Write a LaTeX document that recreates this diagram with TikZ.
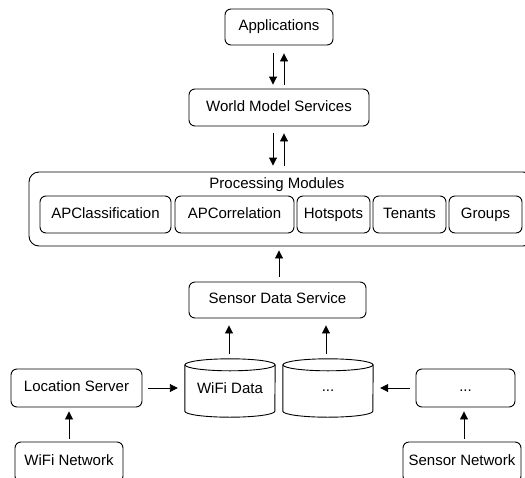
\documentclass[tikz,border=0pt]{standalone}
\usepackage{fontspec}
\setmainfont{Liberation Sans}
\usetikzlibrary{arrows.meta}
\begin{document}
\begin{tikzpicture}[x=1pt,y=-1pt,
  txt/.style={font=\fontsize{15}{18}\selectfont, inner sep=0pt},
  box/.style={txt, draw, line width=0.9pt, rounded corners=6pt, text height=10.5pt, text depth=3pt},
  outer/.style={draw, line width=0.9pt, rounded corners=10pt, inner sep=0pt},
  cylnode/.style={txt},
  line/.style={line width=0.9pt},
  arr/.style={line width=0.9pt, -{Triangle[length=8pt,width=8pt]}}]
\useasboundingbox (0,0) rectangle (525,477);
\clip (0,0) rectangle (525,477);
% top
\node[box, minimum width=108pt, minimum height=36pt] (app) at (279,27) {Applications};
\node[box, minimum width=180pt, minimum height=37pt] (wms) at (279,107.5) {World Model Services};
% processing modules
\node[outer, minimum width=504pt, minimum height=74pt] (pm) at (281,209) {};
\node[txt] (pmt) at (277,185) {Processing Modules};
\node[box, minimum width=131pt, minimum height=37pt] (apcl) at (105.5,214.5) {APClassification};
\node[box, minimum width=119pt, minimum height=37pt] (apco) at (234.5,214.5) {APCorrelation};
\node[box, minimum width=73pt, minimum height=37pt] (hot) at (333.5,214.5) {Hotspots};
\node[box, minimum width=73pt, minimum height=37pt] (ten) at (409.5,214.5) {Tenants};
\node[box, minimum width=73pt, minimum height=37pt] (grp) at (485.5,214.5) {Groups};
% sensor data service
\node[box, minimum width=177pt, minimum height=36pt] (sds) at (277.5,300) {Sensor Data Service};
% cylinders
\node[cylnode, minimum width=90pt, minimum height=58pt] (wifi) at (230,388) {\raisebox{-3pt}{WiFi Data}};
\node[cylnode, minimum width=90pt, minimum height=58pt] (dcyl) at (328,388) {\raisebox{-7pt}{...}};
\foreach \n in {wifi,dcyl}{
  \draw[line] ([yshift=-6pt]\n.north west) -- ([yshift=6pt]\n.south west)
    arc[start angle=180, end angle=360, x radius=45pt, y radius=6pt]
    -- ([yshift=-6pt]\n.north east);
  \draw[line] ([yshift=-6pt]\n.north) ellipse [x radius=45pt, y radius=6pt];
}
% bottom boxes
\node[box, minimum width=131pt, minimum height=38pt] (ls) at (76.5,388) {Location Server};
\node[box, minimum width=99pt, minimum height=38pt] (dbox) at (465.5,388) {...};
\node[box, minimum width=108pt, minimum height=40pt] (wn) at (69,462) {WiFi Network};
\node[box, minimum width=118pt, minimum height=40pt] (sn) at (462,462) {Sensor Network};
% arrows
\draw[arr, shorten <=8pt, shorten >=4pt] ([xshift=-6pt]app.south) -- ([xshift=-6pt]wms.north);
\draw[arr, shorten <=4pt, shorten >=8pt] ([xshift=5pt]wms.north) -- ([xshift=5pt]app.south);
\draw[arr, shorten <=7pt, shorten >=6pt] ([xshift=-6pt]wms.south) -- ([xshift=-6pt]wms.south |- pm.north);
\draw[arr, shorten <=6pt, shorten >=7pt] ([xshift=5pt]wms.south |- pm.north) -- ([xshift=5pt]wms.south);
\draw[arr, shorten <=5pt, shorten >=4pt] ([xshift=1.5pt]sds.north) -- ([xshift=1.5pt]sds.north |- pm.south);
\draw[arr, shorten <=5pt, shorten >=7pt] ([xshift=-1pt]wifi.north) -- ([xshift=-1pt]wifi.north |- sds.south);
\draw[arr, shorten <=5pt, shorten >=7pt] ([xshift=-2pt]dcyl.north) -- ([xshift=-2pt]dcyl.north |- sds.south);
\draw[arr, shorten <=6pt, shorten >=7pt] (ls.east) -- (wifi.west);
\draw[arr, shorten <=6pt, shorten >=7pt] (dbox.west) -- (dcyl.east);
\draw[arr, shorten <=3pt, shorten >=4pt] (wn.north) -- (wn.north |- ls.south);
\draw[arr, shorten <=3pt, shorten >=4pt] ([xshift=2pt]sn.north) -- ([xshift=2pt]sn.north |- dbox.south);
\end{tikzpicture}
\end{document}
